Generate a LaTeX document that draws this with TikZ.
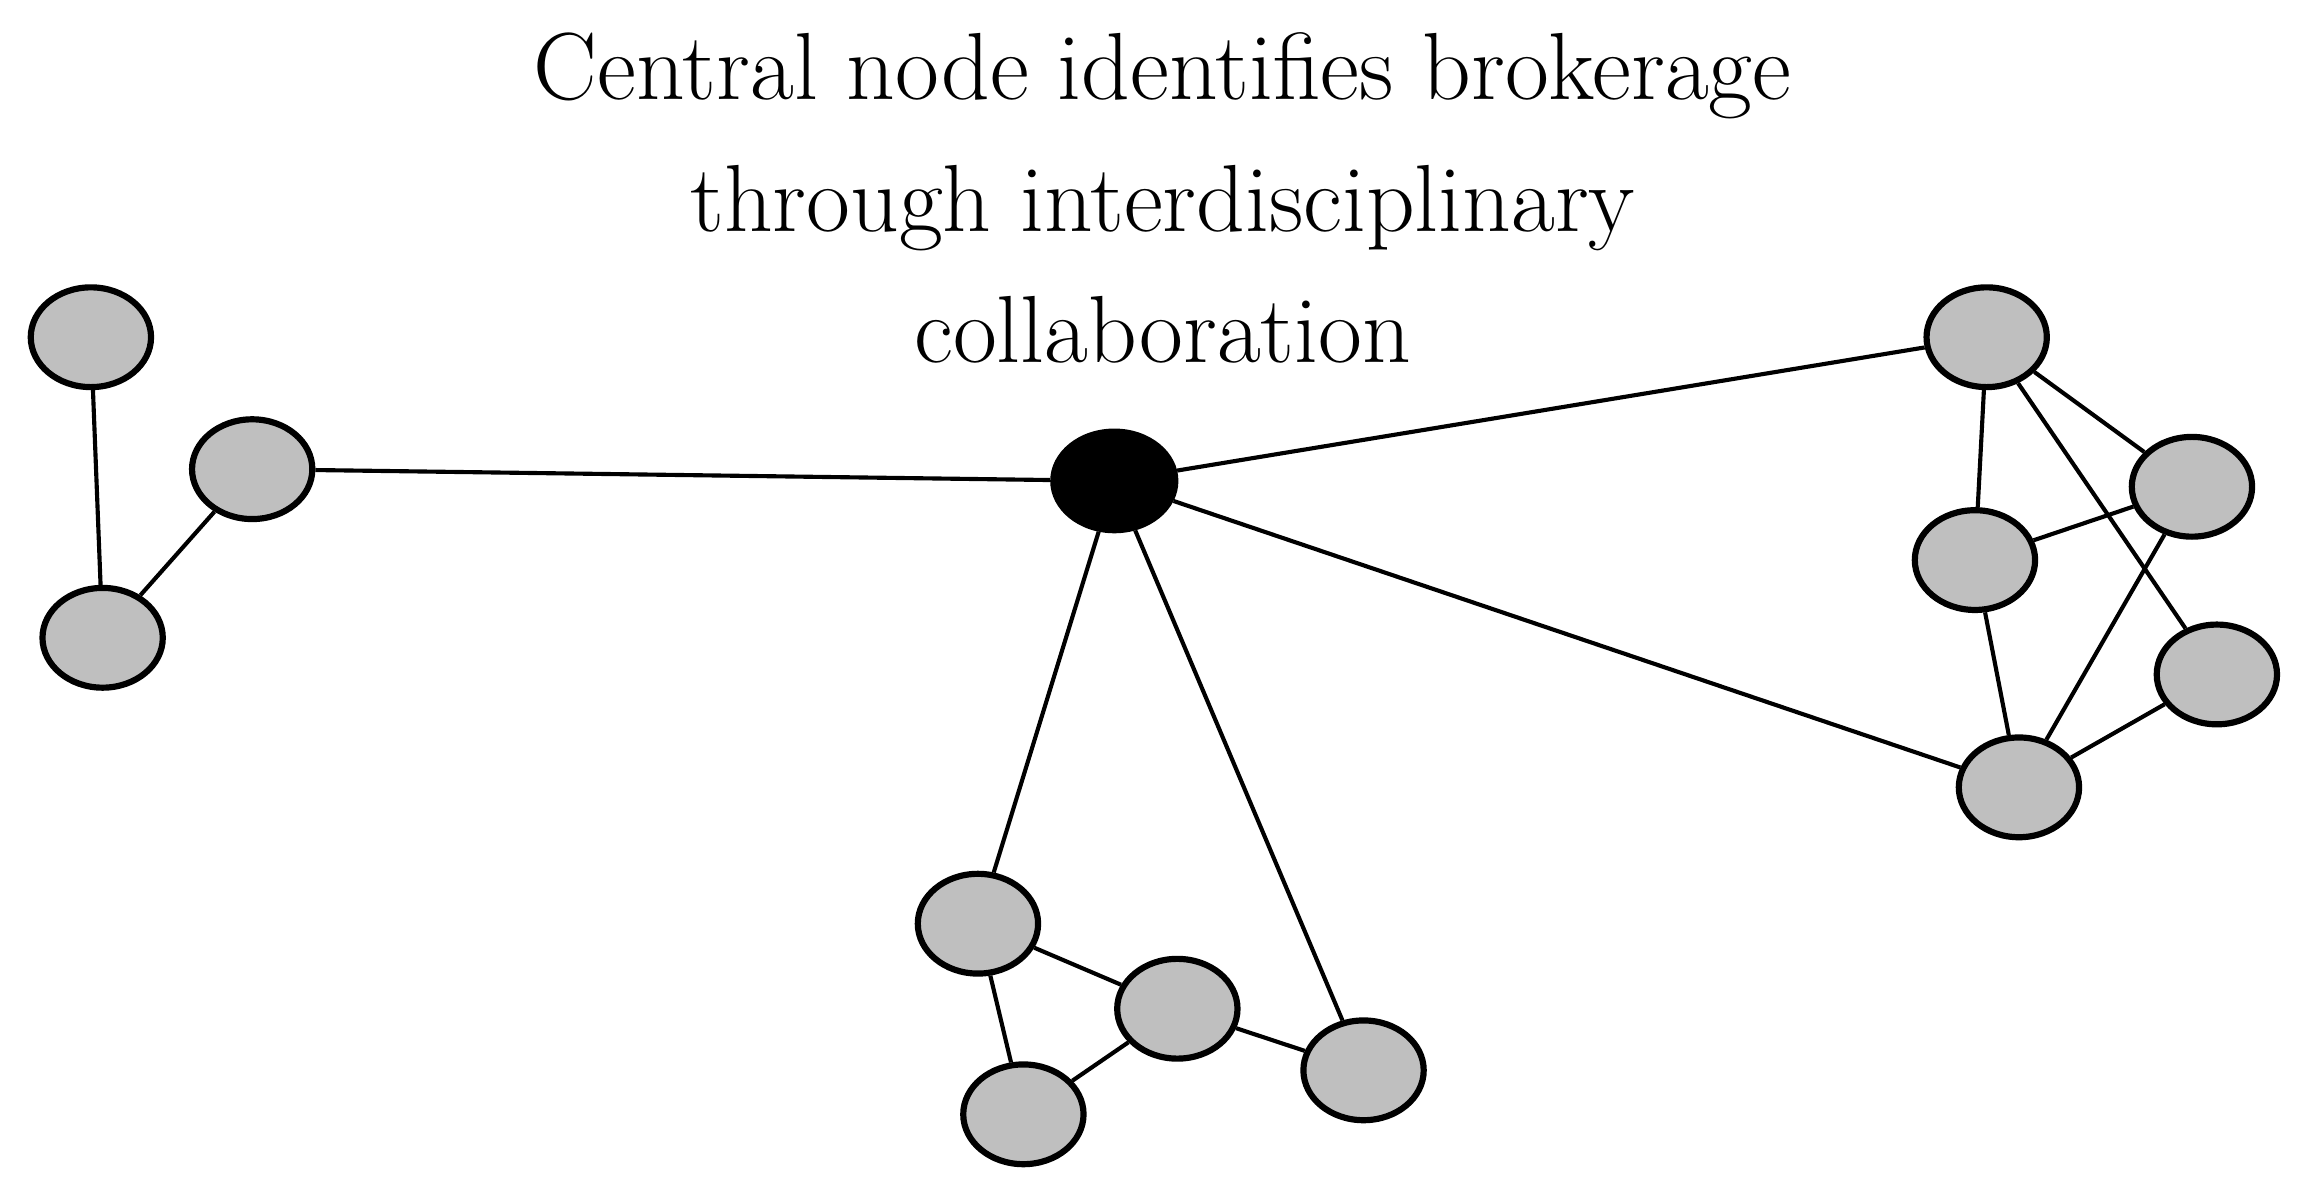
\documentclass[tikz,border=0pt]{standalone}
\usepackage{tikz}
\usetikzlibrary{shapes.geometric}
\begin{document}
\begin{tikzpicture}[x=0.01cm,y=-0.01cm,
    member/.style={shape=ellipse,draw=black,fill=gray!50,line width=1.2pt,minimum width=0.82cm,minimum height=0.68cm},
    broker/.style={shape=ellipse,draw=black,fill=black,minimum width=0.86cm,minimum height=0.7cm}]
        \useasboundingbox (0,0) rectangle (1568,815);
        \node[align=center,font=\fontsize{18.5}{25.5}\selectfont] (title) at (793,135) {Central node identifies brokerage\\through interdisciplinary\\collaboration};

        \node[broker] (c) at (760,328) {};

        \node[member] (l1) at (62,230) {};
        \node[member] (l2) at (172,320) {};
        \node[member] (l3) at (70,435) {};

        \node[member] (b1) at (667,630) {};
        \node[member] (b2) at (803,688) {};
        \node[member] (b3) at (698,760) {};
        \node[member] (b4) at (930,730) {};

        \node[member] (r1) at (1355,230) {};
        \node[member] (r2) at (1495,332) {};
        \node[member] (r3) at (1347,382) {};
        \node[member] (r4) at (1512,460) {};
        \node[member] (r5) at (1377,537) {};

	\path[-,thick] (l1) edge (l3);
	\path[-,thick] (l3) edge (l2);
	\path[-,thick] (l2) edge (c);
	\path[-,thick] (c) edge (r1);
	\path[-,thick] (c) edge (r5);
	\path[-,thick] (c) edge (b1);
	\path[-,thick] (c) edge (b4);
	\path[-,thick] (b1) edge (b2);
	\path[-,thick] (b1) edge (b3);
	\path[-,thick] (b3) edge (b2);
	\path[-,thick] (b2) edge (b4);
	\path[-,thick] (r1) edge (r3);
	\path[-,thick] (r1) edge (r2);
	\path[-,thick] (r1) edge (r4);
	\path[-,thick] (r3) edge (r2);
	\path[-,thick] (r3) edge (r5);
	\path[-,thick] (r2) edge (r5);
	\path[-,thick] (r5) edge (r4);
\end{tikzpicture}
\end{document}
